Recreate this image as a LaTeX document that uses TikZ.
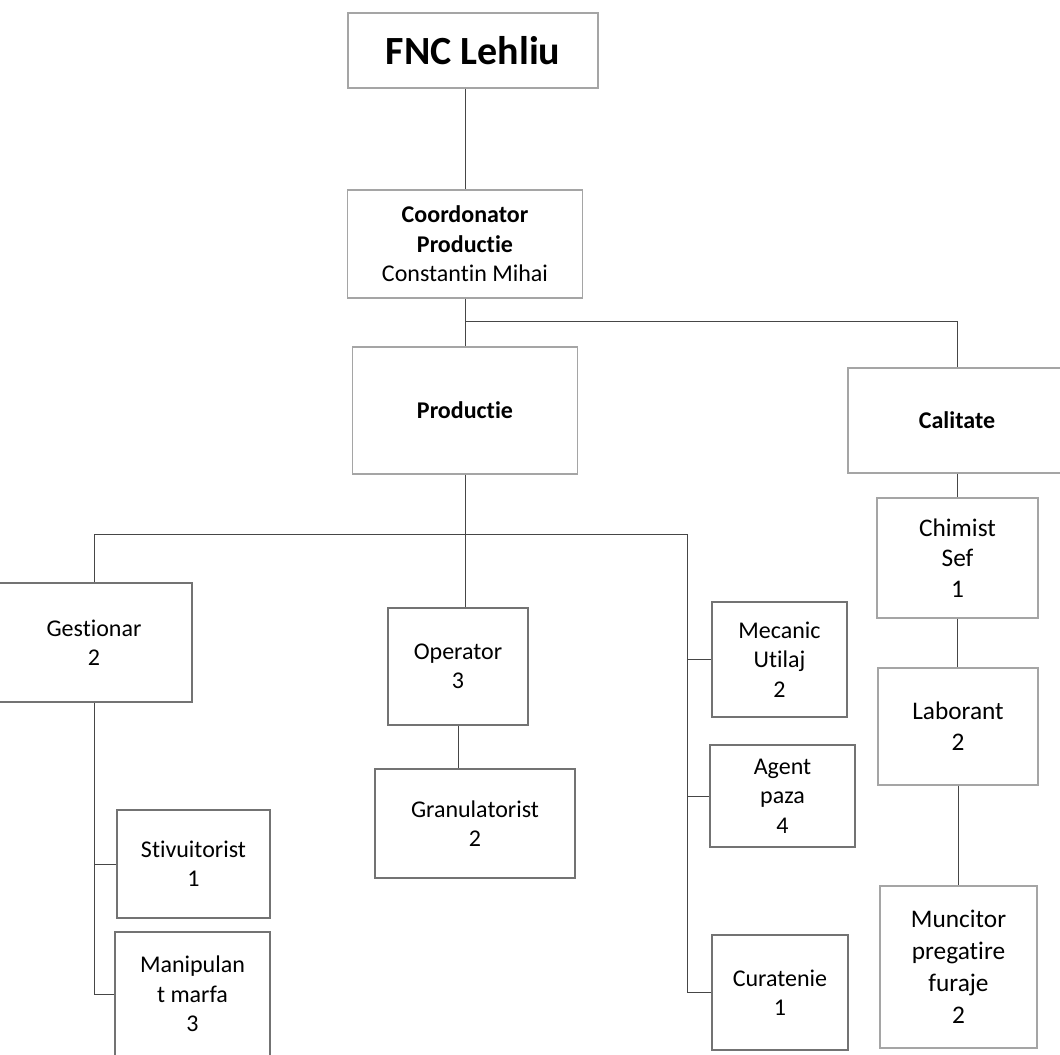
\documentclass[tikz,border=0pt]{standalone}
\usepackage{fontspec}
\setmainfont{Carlito}[Ligatures=NoCommon]
\begin{document}
\begin{tikzpicture}[x=0.75pt,y=0.75pt,yscale=-1,xscale=1,
  lightbox/.style={draw={rgb, 255:red, 165; green, 165; blue, 165 },line width=0.8pt,fill=white,inner sep=0pt,align=center,font=\fontsize{18}{22}\selectfont},
  darkbox/.style={draw={rgb, 255:red, 115; green, 115; blue, 115 },line width=1.7pt,fill=white,inner sep=0pt,align=center,font=\fontsize{18}{22}\selectfont},
  link/.style={draw={rgb, 255:red, 70; green, 70; blue, 70 },line width=0.6pt}]
\useasboundingbox (0,0) rectangle (1060,1055);

% Top level
\node (fnc) at (473,50.5) [lightbox,minimum width=187.5pt,minimum height=56.25pt,font=\fontsize{30}{36}\selectfont\bfseries] {FNC Lehliu};
\node (coord) at (465,244) [lightbox,minimum width=176.25pt,minimum height=81pt] {\textbf{Coordonator}\\\textbf{Productie}\\Constantin Mihai};

% Departments
\node (productie) at (465,410.5) [lightbox,minimum width=168.75pt,minimum height=95.25pt,font=\fontsize{18}{22}\selectfont\bfseries] {Productie};
\node (calitate) at (957,420.5) [lightbox,minimum width=163.5pt,minimum height=78.75pt,font=\fontsize{18}{22}\selectfont\bfseries] {Calitate};

% Productie staff
\node (gestionar) at (94,642.5) [darkbox,minimum width=147pt,minimum height=89.25pt] {Gestionar\\2};
\node (stivuitorist) at (193.5,864) [darkbox,minimum width=114.75pt,minimum height=81pt] {Stivuitorist\\1};
\node (manipulant) at (192.5,994) [darkbox,minimum width=116.25pt,minimum height=93pt] {Manipulan\\t marfa\\3};
\node (operator) at (458,666.5) [darkbox,minimum width=105pt,minimum height=87.75pt] {Operator\\3};
\node (granulatorist) at (475,823.5) [darkbox,minimum width=150pt,minimum height=81.75pt] {Granulatorist\\2};
\node (mecanic) at (779.5,659.5) [darkbox,minimum width=101.25pt,minimum height=86.25pt] {Mecanic\\Utilaj\\2};
\node (agent) at (782.5,796) [darkbox,minimum width=108.75pt,minimum height=76.5pt] {Agent\\paza\\4};
\node (curatenie) at (780,992.5) [darkbox,minimum width=102pt,minimum height=86.25pt] {Curatenie\\1};

% Calitate staff
\node (chimist) at (957.5,558) [lightbox,minimum width=120.75pt,minimum height=90pt,font=\fontsize{19}{23}\selectfont] {Chimist\\Sef\\1};
\node (laborant) at (958,726.5) [lightbox,minimum width=120pt,minimum height=87.75pt,font=\fontsize{19}{23}\selectfont] {Laborant\\2};
\node (muncitor) at (958.5,967) [lightbox,minimum width=117.75pt,minimum height=121.5pt,font=\fontsize{19}{24}\selectfont] {Muncitor\\pregatire\\furaje\\2};

% Bus points
\coordinate (topbus) at (465,321);
\coordinate (rbus) at (687,534);

% Connectors
\draw [link] (fnc.south -| coord.north) -- (coord.north);
\draw [link] (coord.south) -- (topbus) -| (calitate.north);
\draw [link] (topbus) -- (productie.north);
\draw [link] (productie.south) -- (productie.south |- operator.north);
\draw [link] (gestionar.north) |- (rbus) -- (rbus |- curatenie.west) -- (curatenie.west);
\draw [link] (rbus |- mecanic.west) -- (mecanic.west);
\draw [link] (rbus |- agent.west) -- (agent.west);
\draw [link] (gestionar.south) |- (manipulant.west);
\draw [link] (gestionar.south |- stivuitorist.west) -- (stivuitorist.west);
\draw [link] (operator.south) -- (operator.south |- granulatorist.north);
\draw [link] (calitate.south -| chimist.north) -- (chimist.north);
\draw [link] (chimist.south) -- (chimist.south |- laborant.north);
\draw [link] (laborant.south) -- (laborant.south |- muncitor.north);

\end{tikzpicture}
\end{document}
